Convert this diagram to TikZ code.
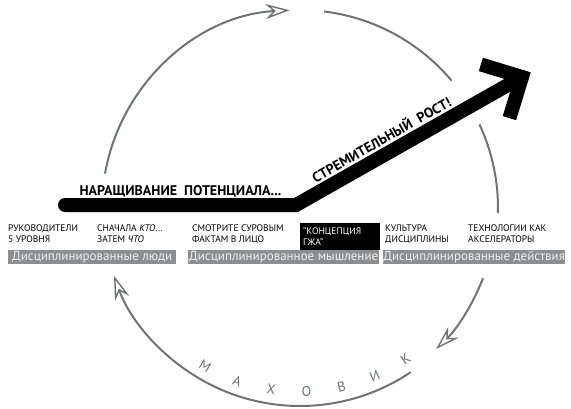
\documentclass[tikz,border=0pt]{standalone}
\usepackage{fontspec}
\setmainfont{PT Sans}
\usetikzlibrary{arrows.meta,calc,positioning}
\definecolor{wheelgray}{HTML}{6E7474}
\definecolor{bargray}{HTML}{8C8F91}
\definecolor{barink}{HTML}{EEEEEE}
\tikzset{wheel/.style={draw=wheelgray,line width=2pt},
  wheeltip/.style={-{Stealth[open,fill=white,length=24pt,width=15pt,inset=8pt,line width=1.4pt]}},
  col/.style={anchor=north west,align=left,inner sep=0pt,font=\fontsize{9.5}{11}\selectfont},
  bar/.style={anchor=north west,fill=bargray,text=barink,inner sep=0pt,minimum height=14pt,font=\fontsize{13}{14}\selectfont},
  growth/.style={line width=14pt},
  growthtext/.style={inner sep=0pt,font=\bfseries\fontsize{14}{16}\selectfont},
  flyletter/.style={text=wheelgray,inner sep=0pt,font=\fontsize{14}{16}\selectfont}}

\begin{document}
\begin{tikzpicture}[x=1pt, y=1pt]
\useasboundingbox (0,0) rectangle (571,408);
\coordinate (hub) at (300,200);

\draw[wheel, wheeltip] ($(hub)+(170:198pt)$) arc[start angle=170, end angle=93, radius=198pt];
\draw[wheel] ($(hub)+(83:198pt)$) arc[start angle=83, end angle=40, radius=198pt];
\draw[wheel] ($(hub)+(25:198pt)$) arc[start angle=25, end angle=-1.5, radius=198pt];
\draw[wheel, wheeltip] ($(hub)+(-21:196pt)$) arc[start angle=-21, end angle=-46, radius=196pt];
\draw[wheel, wheeltip] ($(hub)+(-56:198pt)$) arc[start angle=-56, end angle=-160, radius=198pt];

\foreach \l [count=\i, evaluate=\i as \a using -132+11*\i] in {М,А,Х,О,В,И,К}
  \node[flyletter, rotate=\a+90] (m\i) at ($(hub)+(\a:184pt)$) {\l};

\coordinate (s) at (65,203);
\coordinate (k) at (296,203);
\coordinate (t) at (522,331);
\draw[growth, line cap=round] (s) -- (k) -- (t);
\draw[growth, line join=miter] ($(t)+(163:43pt)$) -- (t) -- ($(t)+(253:43pt)$);
\path (s) -- (k) node[growthtext, midway, anchor=base, yshift=10pt] (up) {НАРАЩИВАНИЕ\ \ ПОТЕНЦИАЛА...};
\path (k) -- (t) node[growthtext, pos=0.41, sloped, above=9pt] (boom) {СТРЕМИТЕЛЬНЫЙ\ \ РОСТ!};

\node[col] (c1) at (8,183) {РУКОВОДИТЕЛИ\\5 УРОВНЯ};
\node[col] (c2) at (97,183) {СНАЧАЛА \textit{КТО}...\\ЗАТЕМ \textit{ЧТО}};
\node[col] (c3) at (192,183) {СМОТРИТЕ СУРОВЫМ\\ФАКТАМ В ЛИЦО};
\node[col, fill=black, text=white, inner xsep=3pt, inner ysep=2pt, text width=74pt, minimum height=27pt] (c4) at (300,185) {"КОНЦЕПЦИЯ\\ГЖА"};
\node[col] (c5) at (385,183) {КУЛЬТУРА\\ДИСЦИПЛИНЫ};
\node[col] (c6) at (468,183) {ТЕХНОЛОГИИ КАК\\АКСЕЛЕРАТОРЫ};

\node[bar, minimum width=168pt] (b1) at (8,158) {Дисциплинированные люди};
\node[bar, minimum width=191pt] (b2) at (188,158) {Дисциплинированное мышление};
\node[bar, minimum width=182pt] (b3) at (383,158) {Дисциплинированные действия};
\end{tikzpicture}
\end{document}
